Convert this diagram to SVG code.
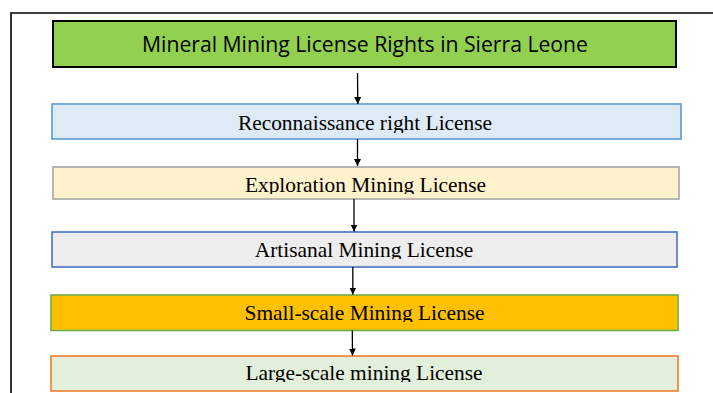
<svg xmlns="http://www.w3.org/2000/svg" width="713" height="393" viewBox="0 0 713 393">
<style>
.box{stroke-width:1.6}
.t{font-family:"Liberation Serif","Times New Roman",serif;font-size:21.4px;fill:#000;text-anchor:middle}
.title{font-family:"Open Sans","Liberation Sans",sans-serif;font-size:21px;fill:#000;text-anchor:middle}
.c{stroke:#000;stroke-width:1.3;fill:none}
</style>
<defs>
<marker id="ah" markerWidth="8" markerHeight="8" refX="7" refY="4" orient="auto" markerUnits="userSpaceOnUse">
<path d="M0,0.5 L7,4 L0,7.5 Z" fill="#000"/>
</marker>
<clipPath id="c1"><rect x="52" y="104" width="629" height="29"/></clipPath>
<clipPath id="c2"><rect x="53" y="167" width="626" height="27"/></clipPath>
<clipPath id="c3"><rect x="52" y="232" width="625" height="27"/></clipPath>
<clipPath id="c4"><rect x="51" y="295" width="627" height="27"/></clipPath>
<clipPath id="c5"><rect x="51" y="356" width="627" height="26"/></clipPath>
</defs>
<rect width="713" height="393" fill="#fff"/>
<path d="M11,393 V13 H713" stroke="#000" stroke-width="1.6" fill="none"/>
<g id="title">
<rect x="53" y="21" width="623" height="46" fill="#92D050" stroke="#000" stroke-width="2"/>
<text class="title" x="365" y="51.5" textLength="446" lengthAdjust="spacingAndGlyphs">Mineral Mining License Rights in Sierra Leone</text>
</g>
<g id="reconnaissance">
<rect class="box" x="52" y="104" width="629" height="35" fill="#DEEBF7" stroke="#5B9BD5"/>
<text class="t" x="365" y="130" clip-path="url(#c1)">Reconnaissance right License</text>
</g>
<g id="exploration">
<rect class="box" x="53" y="167" width="626" height="32" fill="#FFF2CC" stroke="#A5A5A5"/>
<text class="t" x="365.5" y="191.5" clip-path="url(#c2)">Exploration Mining License</text>
</g>
<g id="artisanal">
<rect class="box" x="52" y="232" width="625" height="35" fill="#EDEDED" stroke="#4472C4"/>
<text class="t" x="364" y="256.5" clip-path="url(#c3)">Artisanal Mining License</text>
</g>
<g id="smallscale">
<rect class="box" x="51" y="295" width="627" height="35.5" fill="#FFC000" stroke="#70AD47"/>
<text class="t" x="364.5" y="319.5" clip-path="url(#c4)">Small-scale Mining License</text>
</g>
<g id="largescale">
<rect class="box" x="51" y="356" width="627" height="35" fill="#E2EFDA" stroke="#ED7D31"/>
<text class="t" x="364" y="379.5" clip-path="url(#c5)">Large-scale mining License</text>
</g>
<g id="connectors">
<path class="c" d="M357.5,73 L357.8,104" marker-end="url(#ah)"/>
<path class="c" d="M357.5,139 L357.5,166" marker-end="url(#ah)"/>
<path class="c" d="M354,199 L354,231.5" marker-end="url(#ah)"/>
<path class="c" d="M352.8,267 L352.8,294.5" marker-end="url(#ah)"/>
<path class="c" d="M352.3,330.5 L352.5,355.5" marker-end="url(#ah)"/>
</g>
</svg>
